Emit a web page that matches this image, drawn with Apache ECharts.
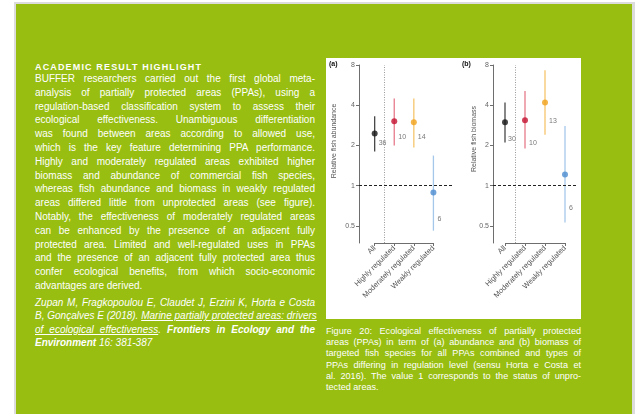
<!DOCTYPE html>
<html><head><meta charset="utf-8">
<script src="https://cdn.jsdelivr.net/npm/echarts@6/dist/echarts.min.js"></script>
<style>
body{margin:0;width:639px;height:414px;overflow:hidden;background:#fff;font-family:"Liberation Sans",Arial,sans-serif;}
#frame{position:absolute;left:14px;top:2px;width:621px;height:412px;background:#dcdcdc;}
#green{position:absolute;left:16px;top:4px;width:616px;height:410px;background:#97be10;}
.col{position:absolute;color:#fff;}
.ln{text-align:justify;text-align-last:justify;white-space:nowrap;}
.ln.last{text-align-last:left;}
#chart{position:absolute;left:326px;top:58px;width:255px;height:261px;background:#fff;}
u{text-decoration:underline;}
</style></head><body>
<div id="frame"></div><div id="green"></div>
<div id="title" class="col" style="left:35px;top:62px;font-weight:bold;font-size:9px;line-height:10px;letter-spacing:1.15px;"></div>
<div id="body" class="col" style="left:35px;top:72px;width:280px;font-size:10px;line-height:13.8px;"></div>
<div id="cite" class="col" style="left:35px;top:296px;width:280px;font-size:10px;line-height:13.4px;font-style:italic;"></div>
<div id="caption" class="col" style="left:326px;top:326px;width:255px;font-size:9.1px;line-height:11.2px;"></div>
<div id="chart"></div>
<script>
// ---- chart data ----
const categories = ['All', 'Highly regulated', 'Moderately regulated', 'Weakly regulated'];
const abundanceMean = [2.46, 3.03, 2.98, 0.89];
const abundanceLow = [1.8, 2.0, 1.93, 0.46];
const abundanceHigh = [3.3, 4.5, 4.5, 1.68];
const abundanceN = ['36', '10', '14', '6'];
const biomassMean = [2.98, 3.08, 4.2, 1.21];
const biomassLow = [2.1, 1.9, 2.4, 0.53];
const biomassHigh = [4.2, 5.1, 7.3, 2.8];
const biomassN = ['30', '10', '13', '6'];
const yTicks = [0.5, 1, 2, 4, 8];
const panelTags = ['(a)', '(b)'];
const yTitles = ['Relative fish abundance', 'Relative fish biomass'];

// ---- text ----
const titleText = 'ACADEMIC RESULT HIGHLIGHT';
const bodyLines = [
 'BUFFER researchers carried out the first global meta-',
 'analysis of partially protected areas (PPAs), using a',
 'regulation-based classification system to assess their',
 'ecological effectiveness. Unambiguous differentiation',
 'was found between areas according to allowed use,',
 'which is the key feature determining PPA performance.',
 'Highly and moderately regulated areas exhibited higher',
 'biomass and abundance of commercial fish species,',
 'whereas fish abundance and biomass in weakly regulated',
 'areas differed little from unprotected areas (see figure).',
 'Notably, the effectiveness of moderately regulated areas',
 'can be enhanced by the presence of an adjacent fully',
 'protected area. Limited and well-regulated uses in PPAs',
 'and the presence of an adjacent fully protected area thus',
 'confer ecological benefits, from which socio-economic',
 'advantages are derived.'
];
const citeLines = [
 'Zupan M, Fragkopoulou E, Claudet J, Erzini K, Horta e Costa',
 'B, Gonçalves E (2018). <u>Marine partially protected areas: drivers</u>',
 '<u>of ecological effectiveness</u>. <b>Frontiers in Ecology and the</b>',
 '<b>Environment</b> 16: 381-387'
];
const captionLines = [
 'Figure 20: Ecological effectiveness of partially protected',
 'areas (PPAs) in term of (a) abundance and (b) biomass of',
 'targeted fish species for all PPAs combined and types of',
 'PPAs differing in regulation level (sensu Horta e Costa et',
 'al. 2016). The value 1 corresponds to the status of unpro-',
 'tected areas.'
];
function fill(id, lines) {
  document.getElementById(id).innerHTML = lines.map((l, i) =>
    '<div class="ln' + (i === lines.length - 1 ? ' last' : '') + '">' + l + '</div>').join('');
}
document.getElementById('title').textContent = titleText;
fill('body', bodyLines);
fill('cite', citeLines);
fill('caption', captionLines);

// ---- styles ----
const pointColors = ['#161616', '#c3122f', '#f0a31c', '#4c8ccf'];
const barColors = ['#474747', '#e77b8b', '#f7c56c', '#a5c8ea'];
const labelOffsets = [
  [[4, 10], [4, 16], [4, 15], [4, 27]],
  [[3, 17], [4, 23], [4, 19], [4, 33]]
];
const yMin = 0.372, yMax = 8;
const grids = [
  {left: 33, top: 7, width: 94, height: 178, xMin: 0.2, xMax: 5},
  {left: 167, top: 7, width: 84, height: 178, xMin: 0.4, xMax: 4.6}
];
const panels = [
  {mean: abundanceMean, low: abundanceLow, high: abundanceHigh, n: abundanceN},
  {mean: biomassMean, low: biomassLow, high: biomassHigh, n: biomassN}
];
const axisGrey = '#6e6e6e';
const font = '"Liberation Sans", Arial, sans-serif';

const option = {
  animation: false,
  textStyle: {fontFamily: font},
  grid: grids.map(g => ({left: g.left, top: g.top, width: g.width, height: g.height})),
  xAxis: grids.map((g, i) => ({
    type: 'value', gridIndex: i, min: g.xMin, max: g.xMax,
    axisLine: {show: false}, splitLine: {show: false},
    axisTick: {show: true, customValues: [1, 2, 3, 4], length: 3, lineStyle: {color: axisGrey}},
    axisLabel: {customValues: [1, 2, 3, 4], formatter: v => categories[Math.round(v) - 1],
      rotate: 45, fontSize: 7.5, color: '#555', margin: 4}
  })),
  yAxis: grids.map((g, i) => ({
    type: 'log', logBase: 2, gridIndex: i, min: yMin, max: yMax,
    axisLine: {show: true, lineStyle: {color: axisGrey}},
    axisTick: {show: true, customValues: yTicks, length: 3, lineStyle: {color: axisGrey}},
    axisLabel: {customValues: yTicks, fontSize: 7, color: '#666', margin: 4, formatter: v => String(v)},
    splitLine: {show: false}
  })),
  graphic: [
    {type: 'text', left: 3, top: 3, style: {text: panelTags[0], font: 'bold 7px ' + font, fill: '#111'}},
    {type: 'text', left: 136, top: 3, style: {text: panelTags[1], font: 'bold 7px ' + font, fill: '#111'}},
    {type: 'text', x: 8, y: 83, rotation: Math.PI / 2,
      style: {text: yTitles[0], align: 'center', verticalAlign: 'middle', font: '7px ' + font, fill: '#555'}},
    {type: 'text', x: 148, y: 81, rotation: Math.PI / 2,
      style: {text: yTitles[1], align: 'center', verticalAlign: 'middle', font: '7px ' + font, fill: '#555'}}
  ],
  series: []
};

panels.forEach((p, gi) => {
  option.series.push({
    type: 'custom', xAxisIndex: gi, yAxisIndex: gi, z: 1,
    data: categories.map((c, k) => [k + 1, p.low[k], p.high[k]]),
    renderItem: (params, api) => {
      const a = api.coord([api.value(0), api.value(1)]);
      const b = api.coord([api.value(0), api.value(2)]);
      return {type: 'line', shape: {x1: a[0], y1: a[1], x2: b[0], y2: b[1]},
        style: {stroke: barColors[params.dataIndex], lineWidth: 1.3}};
    }
  });
  option.series.push({
    type: 'scatter', xAxisIndex: gi, yAxisIndex: gi, z: 3, symbolSize: 6,
    data: categories.map((c, k) => ({
      value: [k + 1, p.mean[k]],
      itemStyle: {color: pointColors[k]},
      label: {show: true, formatter: p.n[k], position: 'inside', align: 'left', verticalAlign: 'middle',
        offset: labelOffsets[gi][k], fontSize: 7, color: '#555'}
    })),
    markLine: {
      silent: true, symbol: 'none', label: {show: false},
      data: [
        {xAxis: 1.5, lineStyle: {type: [1, 1.5], color: '#9a9a9a', width: 1}},
        {yAxis: 1, lineStyle: {type: [3, 2], color: '#222', width: 1}},
        [{coord: [1, yMin], lineStyle: {type: 'solid', color: axisGrey, width: 1}}, {coord: [4, yMin]}]
      ]
    }
  });
});

const chart = echarts.init(document.getElementById('chart'), null, {renderer: 'canvas'});
chart.setOption(option);
</script>
</body></html>
